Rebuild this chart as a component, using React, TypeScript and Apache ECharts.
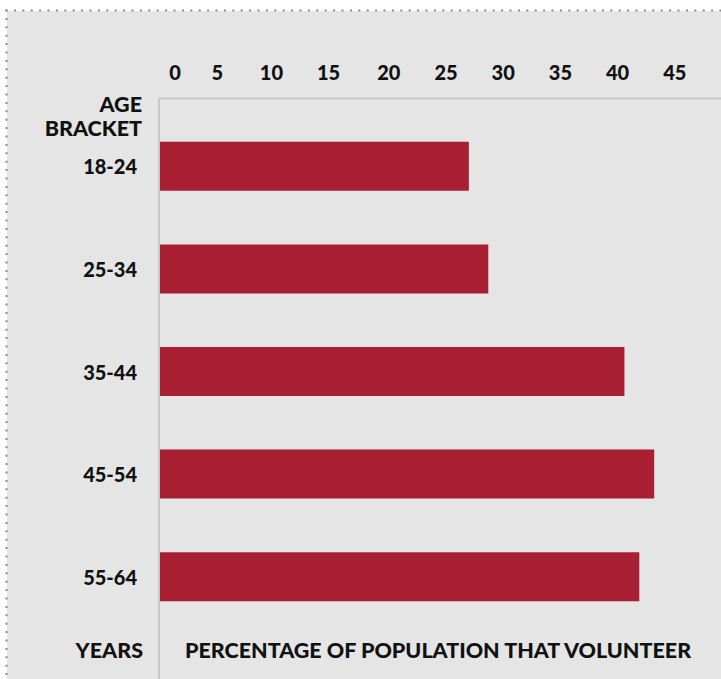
import React, { useEffect, useRef } from "react";
import * as echarts from "echarts";

const categories = ["18-24", "25-34", "35-44", "45-54", "55-64"];
const values = [27.0, 28.7, 40.6, 43.2, 41.9];
const tickLabels = [0, 5, 10, 15, 20, 25, 30, 35, 40, 45];
const yAxisTitle = ["AGE", "BRACKET"];
const yAxisFooter = "YEARS";
const xAxisTitle = "PERCENTAGE OF POPULATION THAT VOLUNTEER";

const W = 721;
const H = 679;
const FONT = "Lato, 'Noto Sans', sans-serif";
const BAR = "#a81e32";
const BG = "#e5e5e5";
const FRAME = "#c8c8c8";
const INK = "#111111";
const TITLE_FONT = `900 21.5px ${FONT}`;

export default function App() {
  const ref = useRef<HTMLDivElement>(null);

  useEffect(() => {
    if (!ref.current) return;
    const chart = echarts.init(ref.current, undefined, { renderer: "svg" });
    chart.setOption({
      animation: false,
      backgroundColor: "#ffffff",
      grid: { left: 160, right: 0, top: 115, height: 513, containLabel: false },
      xAxis: {
        type: "value",
        position: "top",
        min: 0,
        max: 48.78,
        interval: 5,
        axisLine: { show: false },
        axisTick: { show: false },
        splitLine: { show: false },
        axisLabel: {
          margin: 43,
          verticalAlign: "middle",
          color: INK,
          fontFamily: FONT,
          fontWeight: 900,
          fontSize: 20,
          formatter: (v: number) => {
            if (!tickLabels.includes(v)) return "";
            if (v === 0) return "{z|" + v + "}";
            if (v === 10 || v === 15) return "{l|" + v + "}";
            return "{n|" + v + "}";
          },
          rich: {
            z: { padding: [0, 0, 0, 30], fontFamily: FONT, fontWeight: 900, fontSize: 20, color: INK },
            l: { padding: [0, 6, 0, 0], fontFamily: FONT, fontWeight: 900, fontSize: 20, color: INK },
            n: { fontFamily: FONT, fontWeight: 900, fontSize: 20, color: INK },
          },
        },
      },
      yAxis: {
        type: "category",
        inverse: true,
        data: categories,
        axisLine: { show: false },
        axisTick: { show: false },
        splitLine: { show: false },
        axisLabel: {
          margin: 23,
          color: INK,
          fontFamily: FONT,
          fontWeight: 900,
          fontSize: 20,
        },
      },
      series: [
        {
          type: "bar",
          data: values,
          barWidth: 49,
          itemStyle: { color: BAR },
          silent: true,
        },
      ],
      graphic: [
        {
          type: "rect",
          z: -10,
          silent: true,
          shape: { x: 7, y: 11, width: W - 7, height: H - 11 },
          style: { fill: BG },
        },
        {
          type: "line",
          z: -5,
          silent: true,
          shape: { x1: 5.5, y1: 10.5, x2: W, y2: 10.5 },
          style: { stroke: "#8a8a8a", lineWidth: 2, lineDash: [2, 6.4] },
        },
        {
          type: "line",
          z: -5,
          silent: true,
          shape: { x1: 6.5, y1: 9.5, x2: 6.5, y2: H },
          style: { stroke: "#8a8a8a", lineWidth: 2, lineDash: [2, 6.4] },
        },
        {
          type: "polyline",
          z: -4,
          silent: true,
          shape: { points: [[159, H], [159, 98.5], [W, 98.5]] },
          style: { stroke: FRAME, lineWidth: 2, fill: "none" },
        },
        {
          type: "text",
          silent: true,
          x: 142,
          y: 103.5,
          style: {
            text: yAxisTitle[0],
            align: "right",
            verticalAlign: "middle",
            fill: INK,
            font: TITLE_FONT,
          },
        },
        {
          type: "text",
          silent: true,
          x: 142,
          y: 127.5,
          style: {
            text: yAxisTitle[1],
            align: "right",
            verticalAlign: "middle",
            fill: INK,
            font: TITLE_FONT,
          },
        },
        {
          type: "text",
          silent: true,
          x: 143,
          y: 649.5,
          style: {
            text: yAxisFooter,
            align: "right",
            verticalAlign: "middle",
            fill: INK,
            font: TITLE_FONT,
          },
        },
        {
          type: "text",
          silent: true,
          x: 185,
          y: 649.5,
          style: {
            text: xAxisTitle,
            align: "left",
            verticalAlign: "middle",
            fill: INK,
            font: TITLE_FONT,
          },
        },
      ],
    });
    return () => chart.dispose();
  }, []);

  return (
    <div
      ref={ref}
      style={{ position: "absolute", left: 0, top: 0, width: W, height: H }}
    />
  );
}
